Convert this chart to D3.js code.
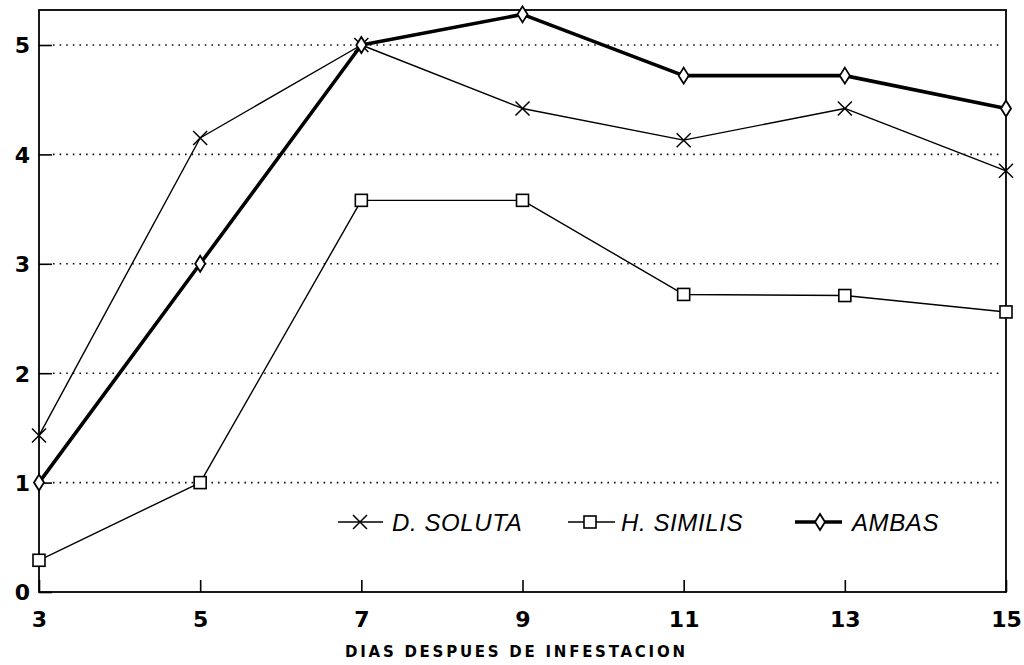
<!DOCTYPE html>
<html><head><meta charset="utf-8">
<script src="https://cdn.jsdelivr.net/npm/d3@7"></script>
<style>
body{margin:0;background:#fff;}
svg{display:block;}
</style></head>
<body>
<svg id="c" width="1024" height="665"></svg>
<script>
const days = [3, 5, 7, 9, 11, 13, 15];
const dSoluta = [1.43, 4.15, 5.0, 4.42, 4.13, 4.42, 3.85];
const hSimilis = [0.29, 1.0, 3.58, 3.58, 2.72, 2.71, 2.56];
const ambas = [1.0, 3.0, 5.0, 5.28, 4.72, 4.72, 4.42];
const yTicks = [0, 1, 2, 3, 4, 5];
const gridValues = [1, 2, 3, 4, 5];
const xTitle = "DIAS DESPUES DE INFESTACION";
const seriesNames = ["D. SOLUTA", "H. SIMILIS", "AMBAS"];

const svg = d3.select("#c");
const x = d3.scaleLinear().domain([3, 15]).range([39, 1006]);
const y = d3.scaleLinear().domain([0, 5]).range([592, 45]);
const yTop = y.invert(10);
const tickFont = "'DejaVu Sans', 'Liberation Sans', Arial, sans-serif";

// grid
svg.append("g").selectAll("line").data(gridValues).join("line")
  .attr("x1", x(3) + 14).attr("x2", x(15) - 4)
  .attr("y1", d => y(d)).attr("y2", d => y(d))
  .attr("stroke", "#111").attr("stroke-width", 1.6)
  .attr("stroke-dasharray", "1.6,5");

// frame
svg.append("rect").attr("x", x(3)).attr("y", y(yTop))
  .attr("width", x(15) - x(3)).attr("height", y(0) - y(yTop))
  .attr("fill", "none").attr("stroke", "#000").attr("stroke-width", 1.8);

// y axis
const yAxis = d3.axisLeft(y).tickValues(yTicks).tickSizeInner(-13).tickSizeOuter(0).tickPadding(9).tickFormat(d3.format("d"));
const gy = svg.append("g").attr("transform", `translate(${x(3)},0)`).call(yAxis);
gy.select(".domain").remove();
gy.selectAll(".tick line").attr("stroke", "#000").attr("stroke-width", 1.6);
gy.selectAll(".tick text").attr("font-family", tickFont)
  .attr("font-weight", "bold").attr("font-size", 22).attr("fill", "#000").attr("dy", "0.36em");

// x axis
const xAxis = d3.axisBottom(x).tickValues(days).tickSizeInner(-12).tickSizeOuter(0).tickPadding(19).tickFormat(d3.format("d"));
const gx = svg.append("g").attr("transform", `translate(0,${y(0)})`).call(xAxis);
gx.select(".domain").remove();
gx.selectAll(".tick line").attr("stroke", "#000").attr("stroke-width", 1.6);
gx.selectAll(".tick text").attr("font-family", tickFont)
  .attr("font-weight", "bold").attr("font-size", 22).attr("fill", "#000");

svg.append("text").attr("x", 515).attr("y", 657)
  .attr("text-anchor", "middle").attr("font-family", tickFont)
  .attr("font-weight", "bold").attr("font-size", 15)
  .attr("textLength", 340).attr("lengthAdjust", "spacing")
  .attr("fill", "#000").text(xTitle);

const line = d3.line().x((d, i) => x(days[i])).y(d => y(d));

function marker(g, type, cx, cy) {
  if (type === "x") {
    g.append("path").attr("d", `M${cx-7},${cy-7}L${cx+7},${cy+7}M${cx-7},${cy+7}L${cx+7},${cy-7}`)
      .attr("stroke", "#000").attr("stroke-width", 1.5).attr("fill", "none");
  } else if (type === "sq") {
    g.append("rect").attr("x", cx - 6).attr("y", cy - 6).attr("width", 12).attr("height", 12)
      .attr("fill", "#fff").attr("stroke", "#000").attr("stroke-width", 1.6);
  } else {
    g.append("path").attr("d", `M${cx},${cy-8}L${cx+5},${cy}L${cx},${cy+8}L${cx-5},${cy}Z`)
      .attr("fill", "#fff").attr("stroke", "#000").attr("stroke-width", 1.8);
  }
}

const series = [
  {vals: hSimilis, w: 1.4, m: "sq"},
  {vals: dSoluta, w: 1.4, m: "x"},
  {vals: ambas, w: 3.6, m: "d"}
];
series.forEach(s => {
  const g = svg.append("g");
  g.append("path").attr("d", line(s.vals)).attr("fill", "none")
    .attr("stroke", "#000").attr("stroke-width", s.w).attr("stroke-linejoin", "round");
  s.vals.forEach((v, i) => marker(g, s.m, x(days[i]), y(v)));
});

// legend
const legY = 522;
const legItems = [
  {name: seriesNames[0], lx: 338, rx: 383, mx: 360, tx: 392, w: 1.4, m: "x"},
  {name: seriesNames[1], lx: 568, rx: 615, mx: 590, tx: 621, w: 1.4, m: "sq"},
  {name: seriesNames[2], lx: 795, rx: 842, mx: 820, tx: 852, w: 3.6, m: "d"}
];
legItems.forEach(it => {
  const g = svg.append("g");
  g.append("line").attr("x1", it.lx).attr("x2", it.rx).attr("y1", legY).attr("y2", legY)
    .attr("stroke", "#000").attr("stroke-width", it.w);
  marker(g, it.m, it.mx, legY);
  g.append("text").attr("x", it.tx).attr("y", legY).attr("dy", "0.36em")
    .attr("font-family", "'Liberation Sans', Arial, sans-serif").attr("font-style", "italic")
    .attr("font-size", 24).attr("letter-spacing", 0.6).attr("fill", "#000").text(it.name);
});
</script>
</body></html>
